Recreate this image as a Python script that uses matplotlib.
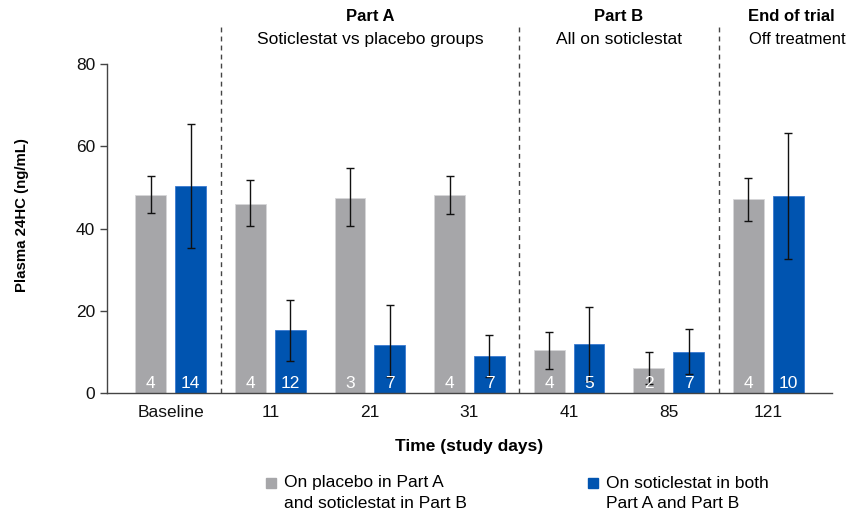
import matplotlib.pyplot as plt
from matplotlib.patches import Rectangle
import numpy as np

plt.rcParams['font.family'] = ['Liberation Sans', 'DejaVu Sans']

## data
days = ['Baseline', '11', '21', '31', '41', '85', '121']
placebo_mean = [48.2, 45.9, 47.3, 48.1, 10.5, 6.1, 47.1]
placebo_hi = [52.7, 51.7, 54.6, 52.7, 14.9, 10.0, 52.3]
placebo_lo = [43.7, 40.5, 40.5, 43.5, 5.9, 2.2, 41.8]
placebo_n = [4, 4, 3, 4, 4, 2, 4]
solic_mean = [50.4, 15.2, 11.7, 9.1, 11.9, 10.0, 47.9]
solic_hi = [65.5, 22.5, 21.5, 14.2, 20.8, 15.6, 63.2]
solic_lo = [35.2, 7.8, 4.0, 4.0, 3.0, 4.7, 32.6]
solic_n = [14, 12, 7, 7, 5, 7, 10]

phase_titles = ['Part A', 'Part B', 'End of trial']
phase_subtitles = ['Soticlestat vs placebo groups', 'All on soticlestat', 'Off treatment']
leg_labels = [['On placebo in Part A', 'and soticlestat in Part B'],
              ['On soticlestat in both', 'Part A and Part B']]

gray = '#A6A6A9'
blue = '#0054B0'
axcol = '#444444'
fs = 12.5

fig = plt.figure(figsize=(8.46, 5.15), dpi=100)
ax = fig.add_axes([0.1265, 0.2369, 0.857, 0.6388])

x = np.arange(len(days))
off = 0.2
w = 0.31

pm = np.array(placebo_mean)
sm = np.array(solic_mean)
p_err = [pm - np.array(placebo_lo), np.array(placebo_hi) - pm]
s_err = [sm - np.array(solic_lo), np.array(solic_hi) - sm]

ax.bar(x - off, pm, w, color=gray, edgecolor='#d6d6d8', linewidth=0.6, zorder=2)
ax.bar(x + off, sm, w, color=blue, edgecolor='#3a7ad0', linewidth=0.6, zorder=2)
ax.errorbar(x - off, pm, yerr=p_err, fmt='none', ecolor='#111111', elinewidth=1,
            capsize=3.2, capthick=1, zorder=3)
ax.errorbar(x + off, sm, yerr=s_err, fmt='none', ecolor='#111111', elinewidth=1,
            capsize=3.2, capthick=1, zorder=3)

## n counts inside bars
for i in range(len(days)):
    ax.text(x[i] - off, 2.3, str(placebo_n[i]), color='white', ha='center', va='center',
            fontsize=12.5, zorder=4)
    ax.text(x[i] + off, 2.3, str(solic_n[i]), color='white', ha='center', va='center',
            fontsize=12.5, zorder=4)

ax.set_xlim(-0.64, 6.64)
ax.set_ylim(0, 80)
ax.set_yticks([0, 20, 40, 60, 80])
ax.set_xticks(x)
ax.set_xticklabels(days)
ax.tick_params(axis='x', length=0, labelsize=fs, pad=9, colors='#111111')
ax.tick_params(axis='y', length=5, width=1, labelsize=fs, color=axcol, labelcolor='#111111')
for s in ['top', 'right']:
    ax.spines[s].set_visible(False)
for s in ['left', 'bottom']:
    ax.spines[s].set_color(axcol)
    ax.spines[s].set_linewidth(1)

ax.set_ylabel('Plasma 24HC (ng/mL)', fontsize=10.8, fontweight='bold')
ax.yaxis.set_label_coords(-0.108, 0.541)
ax.set_xlabel('Time (study days)', fontsize=fs, fontweight='bold', labelpad=13)

## phase separators
trans = ax.get_xaxis_transform()
for xv in [0.5, 3.5, 5.5]:
    ax.plot([xv, xv], [0, 1.12], transform=trans, color=axcol, lw=1,
            linestyle=(0, (3.5, 3)), clip_on=False, zorder=1)

## phase headings
ax.text(2.0, 1.143, phase_titles[0], transform=trans, ha='center', va='center',
        fontsize=12, fontweight='bold')
ax.text(2.0, 1.076, phase_subtitles[0], transform=trans, ha='center', va='center', fontsize=fs)
ax.text(4.5, 1.143, phase_titles[1], transform=trans, ha='center', va='center',
        fontsize=12, fontweight='bold')
ax.text(4.5, 1.076, phase_subtitles[1], transform=trans, ha='center', va='center', fontsize=fs)
ax.text(5.8, 1.143, phase_titles[2], transform=trans, ha='left', va='center',
        fontsize=12, fontweight='bold')
ax.text(5.81, 1.076, phase_subtitles[2], transform=trans, ha='left', va='center', fontsize=11.9)

## legend drawn by hand
for px, col, lab in [(266, gray, leg_labels[0]), (588, blue, leg_labels[1])]:
    fig.patches.append(Rectangle((px / 846, 1 - 488 / 515), 10 / 846, 10 / 515,
                                 transform=fig.transFigure, color=col))
    fig.text((px + 18) / 846, 1 - 483 / 515, lab[0], ha='left', va='center', fontsize=fs)
    fig.text((px + 18) / 846, 1 - 503 / 515, lab[1], ha='left', va='center', fontsize=fs)

fig.savefig('out.png', dpi=100)
